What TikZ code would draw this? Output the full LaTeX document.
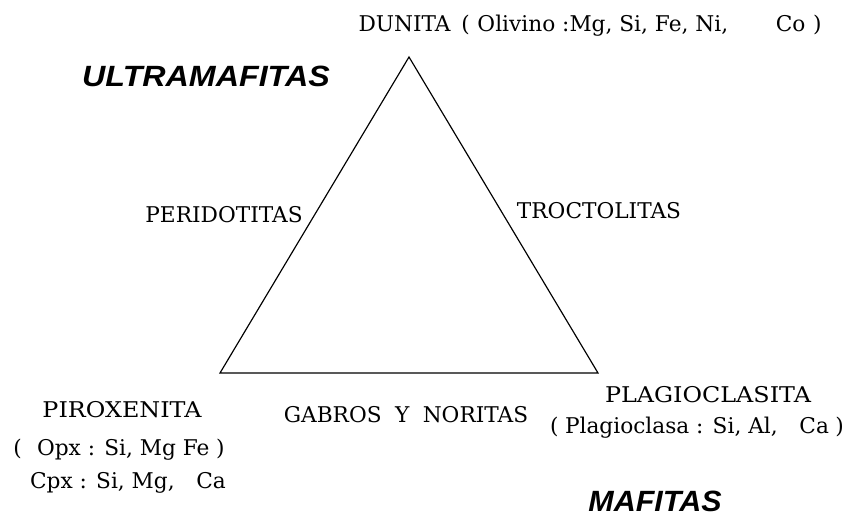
\documentclass[tikz,border=0pt]{standalone}
\usepackage{fontspec}
\setmainfont{DejaVu Serif}
\newfontfamily\zonafont{Liberation Sans}
\tikzset{
  roca/.style={anchor=base, font=\fontsize{18.5pt}{20pt}\selectfont, inner sep=0pt},
  zona/.style={anchor=base, font=\zonafont\fontsize{25pt}{27pt}\selectfont\bfseries\itshape, inner sep=0pt}
}
\begin{document}
\begin{tikzpicture}[x=0.03cm, y=-0.03cm]
% page frame, 851 x 516 px
\useasboundingbox (0,0) rectangle (851,516);

% corners of the triangle
\coordinate (dun) at (409,57);
\coordinate (pir) at (220,373);
\coordinate (pla) at (598,373);
\draw[line width=1pt, line join=miter] (dun) -- (pla) -- (pir) -- cycle;

% end members
\node[roca] (dunita) at (590,32) {DUNITA\hspace{0.5em}(\hspace{0.35em}Olivino :Mg, Si, Fe, Ni,\hspace{2.2em}Co\hspace{0.35em})};
\node[roca] (piroxenita) at (122,417) {\scalebox{1.1}[1]{PIROXENITA}};
\node[roca] (opx) at (119,455) {(\hspace{0.7em}Opx : Si, Mg Fe\hspace{0.3em})};
\node[roca] (cpx) at (128,488) {Cpx : Si, Mg,\hspace{1em}Ca};
\node[roca] (plagioclasita) at (708,402) {\scalebox{1.1}[1]{PLAGIOCLASITA}};
\node[roca] (plag) at (697,433) {(\hspace{0.3em}Plagioclasa : Si, Al,\hspace{1em}Ca\hspace{0.3em})};

% sides
\node[roca] (peridotitas) at (224,223) {PERIDOTITAS};
\node[roca] (troctolitas) at (599,219) {TROCTOLITAS};
\node[roca] (gabros) at (406,422) {GABROS\hspace{0.3em} Y\hspace{0.3em} NORITAS};

% groups
\node[zona] (ultra) at (206,87) {\scalebox{1.1}[1]{ULTRAMAFITAS}};
\node[zona] (mafitas) at (655,511) {\scalebox{1.04}[1]{MAFITAS}};
\end{tikzpicture}
\end{document}
